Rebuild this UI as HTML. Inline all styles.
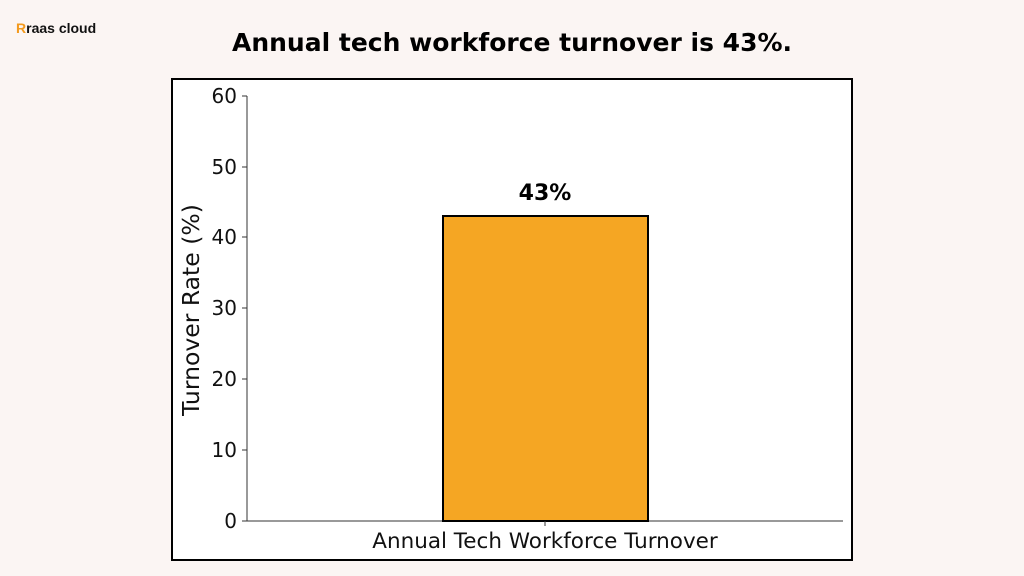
<!DOCTYPE html>
<html><head><style>
body{margin:0;width:1024px;height:576px;background:#fbf5f3;font-family:"DejaVu Sans","Liberation Sans",sans-serif;overflow:hidden;position:relative}
</style></head><body>
<div style="position:absolute;left:16px;top:20px;font:bold 14px 'Liberation Sans',sans-serif;color:#111"><span style="color:#f39a1e">R</span>raas cloud</div>
<div style="position:absolute;left:0;width:1024px;top:28px;text-align:center;font:bold 25px 'DejaVu Sans',sans-serif;color:#000">Annual tech workforce turnover is 43%.</div>
<svg width="1024" height="576" style="position:absolute;left:0;top:0" font-family="DejaVu Sans, Liberation Sans, sans-serif">
<rect x="172" y="79" width="680" height="481" fill="#fff" stroke="#000" stroke-width="2"/>
<line x1="247" y1="96" x2="247" y2="521" stroke="#333" stroke-width="1"/>
<line x1="247" y1="521" x2="843" y2="521" stroke="#333" stroke-width="1"/>
<g font-size="20" text-anchor="end" fill="#111">
<text x="237" y="528">0</text><line x1="242" y1="521" x2="247" y2="521" stroke="#333"/>
<text x="237" y="457">10</text><line x1="242" y1="450" x2="247" y2="450" stroke="#333"/>
<text x="237" y="386">20</text><line x1="242" y1="379" x2="247" y2="379" stroke="#333"/>
<text x="237" y="315">30</text><line x1="242" y1="308" x2="247" y2="308" stroke="#333"/>
<text x="237" y="244">40</text><line x1="242" y1="237" x2="247" y2="237" stroke="#333"/>
<text x="237" y="174">50</text><line x1="242" y1="167" x2="247" y2="167" stroke="#333"/>
<text x="237" y="103">60</text><line x1="242" y1="96" x2="247" y2="96" stroke="#333"/>
</g>
<rect x="443" y="216" width="205" height="305" fill="#f5a623" stroke="#000" stroke-width="2"/>
<text x="545" y="200" font-size="22" font-weight="bold" text-anchor="middle">43%</text>
<line x1="545" y1="521" x2="545" y2="526" stroke="#333"/>
<text x="545" y="548" font-size="21.5" text-anchor="middle" fill="#111">Annual Tech Workforce Turnover</text>
<text transform="translate(199,310) rotate(-90)" font-size="23.5" text-anchor="middle" fill="#111">Turnover Rate (%)</text>
</svg>
</body></html>
